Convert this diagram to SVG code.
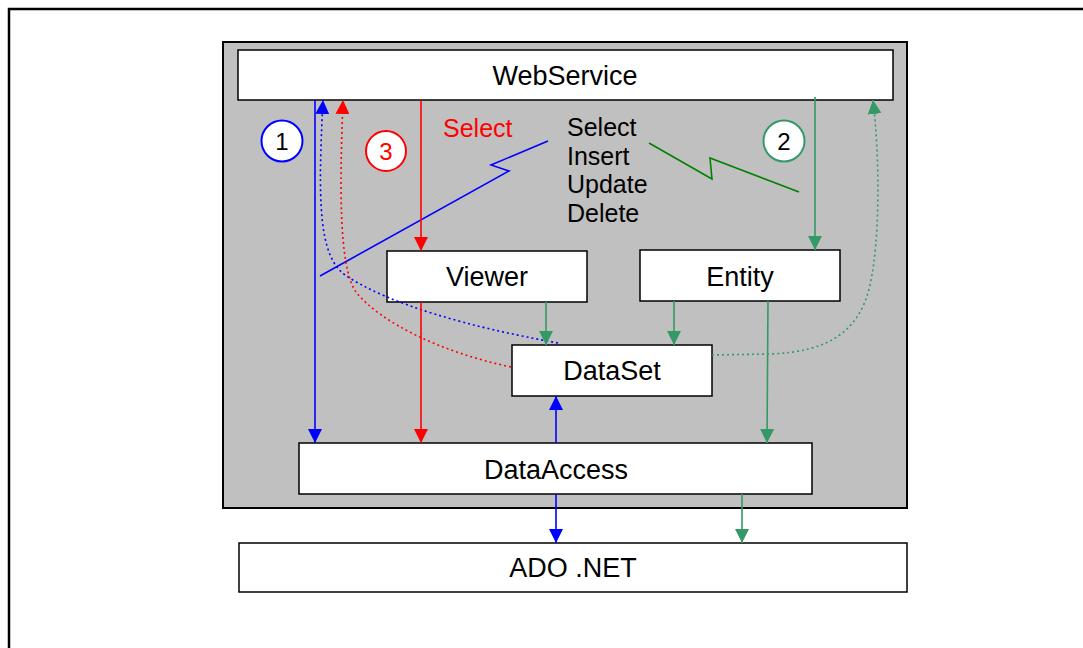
<svg xmlns="http://www.w3.org/2000/svg" width="1083" height="648" viewBox="0 0 1083 648">
  <style>
    .box { fill: #ffffff; stroke: #000000; stroke-width: 1.5; }
    .lbl { font-family: "Liberation Sans", Arial, sans-serif; font-size: 27px; fill: #000000; text-anchor: middle; }
    .ops { font-family: "Liberation Sans", Arial, sans-serif; font-size: 25px; fill: #000000; }
    .num { font-family: "Liberation Sans", Arial, sans-serif; font-size: 24px; fill: #000000; text-anchor: middle; }
    .blue { stroke: #0000ff; stroke-width: 1.6; fill: none; }
    .red { stroke: #ff0000; stroke-width: 1.6; fill: none; }
    .green { stroke: #339966; stroke-width: 1.6; fill: none; }
    .dot { stroke-dasharray: 2 3; stroke-width: 1.6; }
  </style>
  <defs>
    <marker id="ah-blue" viewBox="0 0 14 14" refX="14" refY="7" markerWidth="14" markerHeight="14" markerUnits="userSpaceOnUse" orient="auto">
      <path d="M0,0 L14,7 L0,14 Z" fill="#0000ff"/>
    </marker>
    <marker id="ah-red" viewBox="0 0 14 14" refX="14" refY="7" markerWidth="14" markerHeight="14" markerUnits="userSpaceOnUse" orient="auto">
      <path d="M0,0 L14,7 L0,14 Z" fill="#ff0000"/>
    </marker>
    <marker id="ah-green" viewBox="0 0 14 14" refX="14" refY="7" markerWidth="14" markerHeight="14" markerUnits="userSpaceOnUse" orient="auto">
      <path d="M0,0 L14,7 L0,14 Z" fill="#339966"/>
    </marker>
  </defs>

  <!-- page frame -->
  <rect x="0" y="0" width="1083" height="648" fill="#ffffff"/>
  <rect x="9" y="9" width="1090" height="660" fill="none" stroke="#000000" stroke-width="2.5"/>

  <!-- container -->
  <g id="container">
    <rect x="223" y="42" width="684" height="466" fill="#c0c0c0" stroke="#000000" stroke-width="2"/>
  </g>

  <g id="webservice">
    <rect class="box" x="238" y="50" width="655" height="50"/>
    <text class="lbl" x="565" y="85">WebService</text>
  </g>
  <g id="viewer">
    <rect class="box" x="387" y="251" width="200" height="51"/>
    <text class="lbl" x="487" y="286">Viewer</text>
  </g>
  <g id="entity">
    <rect class="box" x="640" y="250" width="200" height="51"/>
    <text class="lbl" x="740" y="286">Entity</text>
  </g>
  <g id="dataset">
    <rect class="box" x="512" y="345" width="200" height="51"/>
    <text class="lbl" x="612" y="380">DataSet</text>
  </g>
  <g id="dataaccess">
    <rect class="box" x="299" y="443" width="513" height="51"/>
    <text class="lbl" x="556" y="479">DataAccess</text>
  </g>
  <g id="adonet">
    <rect class="box" x="239" y="543" width="668" height="49"/>
    <text class="lbl" x="573" y="577">ADO .NET</text>
  </g>

  <!-- operation labels -->
  <g id="operations">
    <text class="ops" x="567" y="136">Select</text>
    <text class="ops" x="567" y="165">Insert</text>
    <text class="ops" x="567" y="193">Update</text>
    <text class="ops" x="567" y="222">Delete</text>
    <text class="ops" x="443" y="137" fill="#ff0000" style="fill:#ff0000">Select</text>
  </g>

  <!-- step markers -->
  <g id="step1">
    <circle cx="282" cy="141" r="20.5" fill="#ffffff" stroke="#0000ff" stroke-width="2"/>
    <text class="num" x="282" y="150">1</text>
  </g>
  <g id="step2">
    <circle cx="784" cy="141" r="20.5" fill="#ffffff" stroke="#339966" stroke-width="2"/>
    <text class="num" x="784" y="150">2</text>
  </g>
  <g id="step3">
    <circle cx="386" cy="151" r="20" fill="#ffffff" stroke="#ff0000" stroke-width="2"/>
    <text class="num" x="386" y="160" style="fill:#ff0000">3</text>
  </g>

  <g id="connectors">
    <!-- flow 1 (blue) -->
    <line class="blue" x1="315" y1="100" x2="315" y2="443" marker-end="url(#ah-blue)"/>
    <line class="blue" x1="556" y1="443" x2="556" y2="396" marker-end="url(#ah-blue)"/>
    <line class="blue" x1="556" y1="494" x2="556" y2="543" marker-end="url(#ah-blue)"/>
    <path class="blue dot" d="M558,343 C470,327 390,305 345,275 C318,255 318,200 323,100" marker-end="url(#ah-blue)"/>
    <polyline class="blue" points="548,141 491,165 509,171 320,276"/>

    <!-- flow 3 (red) -->
    <line class="red" x1="421" y1="100" x2="421" y2="251" marker-end="url(#ah-red)"/>
    <line class="red" x1="421" y1="302" x2="421" y2="443" marker-end="url(#ah-red)"/>
    <path class="red dot" d="M511,367 C440,352 380,322 356,292 C338,266 340,180 343,100" marker-end="url(#ah-red)"/>

    <!-- flow 2 (green) -->
    <line class="green" x1="815" y1="97" x2="815" y2="250" marker-end="url(#ah-green)"/>
    <line class="green" x1="546" y1="302" x2="546" y2="345" marker-end="url(#ah-green)"/>
    <line class="green" x1="674" y1="301" x2="674" y2="345" marker-end="url(#ah-green)"/>
    <line class="green" x1="768" y1="301" x2="767" y2="443" marker-end="url(#ah-green)"/>
    <line class="green" x1="742" y1="494" x2="742" y2="543" marker-end="url(#ah-green)"/>
    <path class="green dot" d="M712,355 L770,354 C830,352 860,330 870,285 C880,240 880,160 873,100" marker-end="url(#ah-green)"/>
    <polyline points="649,143 712,179 710,158 799,192" fill="none" stroke="#008000" stroke-width="1.6"/>
  </g>
</svg>
